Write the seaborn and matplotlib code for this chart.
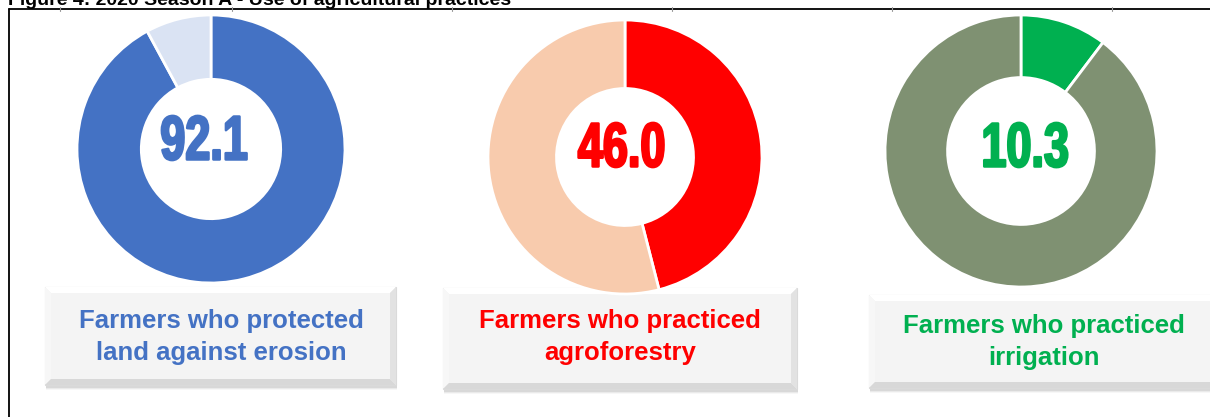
import matplotlib
matplotlib.use("Agg")
import matplotlib.pyplot as plt
import seaborn as sns
from matplotlib.patches import Rectangle, Polygon
from matplotlib.patheffects import AbstractPathEffect
from matplotlib.transforms import Affine2D

# Data
labels = ["Farmers who protected\nland against erosion",
          "Farmers who practiced\nagroforestry",
          "Farmers who practiced\nirrigation"]
shares = [92.1, 46.0, 10.3]
main_colors = ["#4472C4", "#FF0000", "#00B050"]
rest_colors = ["#DAE3F3", "#F8CBAD", "#7F9172"]
title = "Figure 4: 2020 Season A - Use of agricultural practices"

sns.set_theme(style="white")
plt.rcParams["font.family"] = ["Liberation Sans", "DejaVu Sans"]

W, H = 1210, 417
fig = plt.figure(figsize=(W / 100, H / 100), dpi=100)
fig.patch.set_facecolor("white")


class Squeeze(AbstractPathEffect):
    # narrows glyphs horizontally about their own centre and thickens them
    def __init__(self, sx=0.74, stroke=1.6):
        super().__init__()
        self.sx = sx
        self.stroke = stroke

    def draw_path(self, renderer, gc, tpath, affine, rgbFace=None):
        ext = tpath.transformed(affine).get_extents()
        mid = (ext.x0 + ext.x1) / 2
        squeeze = Affine2D().translate(-mid, 0).scale(self.sx, 1).translate(mid, 0)
        gc0 = renderer.new_gc()
        gc0.copy_properties(gc)
        gc0.set_linewidth(self.stroke)
        gc0.set_foreground(rgbFace)
        renderer.draw_path(gc0, tpath, affine + squeeze, rgbFace)
        gc0.restore()


def px_axes(cx, cy, r):
    # axes placed by pixel centre/radius (y measured from top)
    return fig.add_axes([(cx - r) / W, 1 - (cy + r) / H, 2 * r / W, 2 * r / H])


# donut geometry (pixels): centre x, centre y, outer radius, ring width
donuts = [(211, 149, 134, 0.48), (625, 157, 137, 0.50), (1021, 151, 136, 0.46)]
num_pos = [(204, 143), (622, 150), (1025, 150)]
# label boxes: x0, y0, x1, y1 (pixels from top-left) and text centres
boxes = [(45, 287, 396, 385), (443, 288, 797, 389), (869, 295, 1222, 388)]
label_pos = [(221, 337), (620, 337), (1044, 342)]

# page frame
bg = fig.add_axes([0, 0, 1, 1])
bg.set_xlim(0, W)
bg.set_ylim(H, 0)
bg.axis("off")
bg.plot([9, W], [9, 9], color="black", lw=1.3)
bg.plot([9, 9], [9, H], color="black", lw=1.3)
for tx in [60, 232, 452, 672, 892, 1112]:
    bg.plot([tx, tx], [7, 11], color="#999999", lw=0.8)
bg.text(8, 4.5, title, fontsize=14, fontweight="bold", color="black",
        va="baseline", ha="left")

for (x0, y0, x1, y1), lab, col, (lx, ly) in zip(boxes, labels, main_colors, label_pos):
    # soft shadow
    for k, a in enumerate([0.07, 0.05, 0.03]):
        bg.add_patch(Rectangle((x0 + 1, y0 + 3 + k), x1 - x0, y1 - y0,
                               facecolor="black", alpha=a, lw=0))
    bg.add_patch(Rectangle((x0, y0), x1 - x0, y1 - y0,
                           facecolor="#F2F2F2", edgecolor="#DADADA", lw=0.8))
    b = 6
    # bevel faces
    bg.add_patch(Polygon([(x0, y0), (x1, y0), (x1 - b, y0 + b), (x0 + b, y0 + b)],
                         facecolor="#FFFFFF", lw=0))
    bg.add_patch(Polygon([(x0, y0), (x0 + b, y0 + b), (x0 + b, y1 - b), (x0, y1)],
                         facecolor="#F7F7F7", lw=0))
    bg.add_patch(Polygon([(x0, y1), (x0 + b, y1 - b), (x1 - b, y1 - b), (x1, y1)],
                         facecolor="#D8D8D8", lw=0))
    bg.add_patch(Polygon([(x1, y0), (x1, y1), (x1 - b, y1 - b), (x1 - b, y0 + b)],
                         facecolor="#E2E2E2", lw=0))
    bg.add_patch(Rectangle((x0 + b, y0 + b), x1 - x0 - 2 * b, y1 - y0 - 2 * b,
                           facecolor="#F4F4F4", lw=0))
    bg.text(lx, ly, lab, fontsize=18.5, fontweight="bold",
            color=col, ha="center", va="center", linespacing=1.42)

for (cx, cy, r, wd), val, mc, rc, (nx, ny) in zip(donuts, shares, main_colors,
                                                   rest_colors, num_pos):
    ax = px_axes(cx, cy, r)
    ax.pie([val, 100 - val], colors=[mc, rc], startangle=90, counterclock=False,
           radius=1, wedgeprops=dict(width=wd, edgecolor="white", linewidth=2))
    ax.set_xlim(-1, 1)
    ax.set_ylim(-1, 1)
    ax.set_aspect("auto")
    ax.axis("off")
    bg.text(nx, ny, f"{val:.1f}", fontsize=45, fontweight="bold", color=mc,
            ha="center", va="center", path_effects=[Squeeze(0.72, 1.8)])

fig.savefig("out.png", dpi=100)
